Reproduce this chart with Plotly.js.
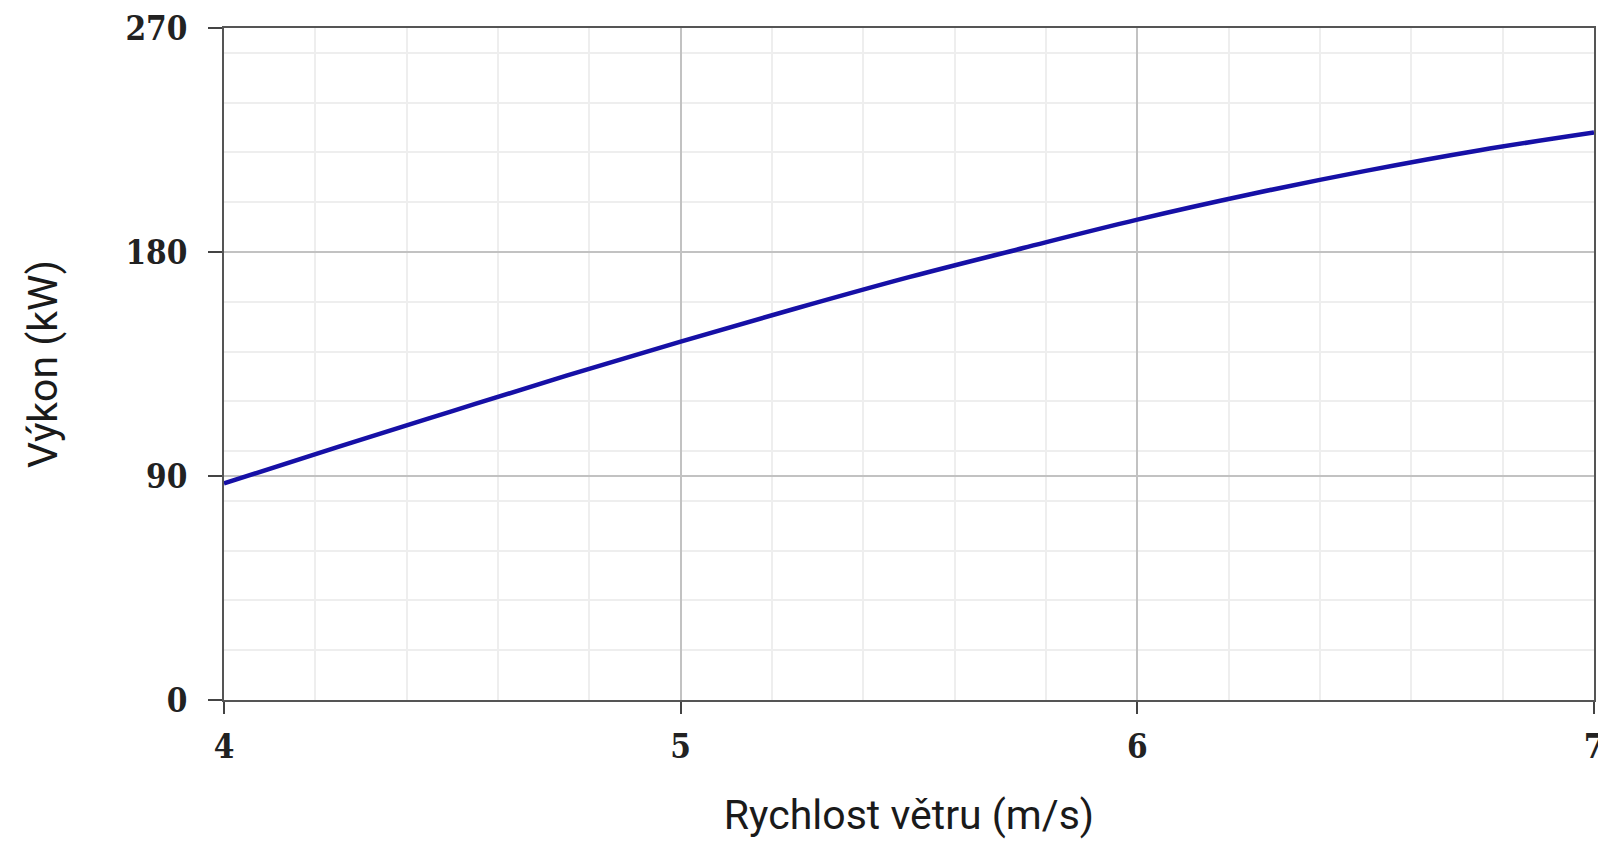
<!DOCTYPE html>
<html>
<head>
<meta charset="utf-8">
<script src="https://cdn.plot.ly/plotly-3.0.1.min.js"></script>
<style>
  html, body { margin: 0; padding: 0; background: #ffffff; }
  #chart { width: 1598px; height: 852px; }
</style>
</head>
<body>
<div id="chart"></div>
<script>
// Wind speed (m/s)
const windSpeed = [4.0, 4.25, 4.5, 4.75, 5.0, 5.25, 5.5, 5.75, 6.0, 6.25, 6.5, 6.75, 7.0];
// Power output (kW)
const power = [87, 101.7, 116.1, 130.3, 144, 157.2, 169.9, 181.6, 193, 203.3, 212.6, 220.9, 228];

const xTitle = 'Rychlost větru (m/s)';
const yTitle = 'Výkon (kW)';
const xTicks = [4, 5, 6, 7];
const yTicks = [0, 90, 180, 270];

const tickFont = { family: 'DejaVu Serif Condensed, DejaVu Serif, serif', size: 33, color: '#222222', weight: 'bold' };
const titleFont = { family: 'Roboto, sans-serif', size: 41, color: '#1a1a1a' };

const trace = {
  x: windSpeed,
  y: power,
  type: 'scatter',
  mode: 'lines',
  line: { color: '#1610a6', width: 4.5, shape: 'spline' },
  hoverinfo: 'x+y',
  showlegend: false
};

const layout = {
  width: 1598,
  height: 852,
  margin: { l: 224, r: 4, t: 28, b: 152 },
  paper_bgcolor: '#ffffff',
  plot_bgcolor: '#ffffff',
  xaxis: {
    range: [4, 7],
    tickmode: 'array',
    tickvals: xTicks,
    ticktext: xTicks.map(String),
    ticks: 'outside',
    ticklen: 12,
    tickwidth: 2,
    tickcolor: '#444444',
    tickfont: tickFont,
    ticklabelstandoff: 4,
    ticklabeloverflow: 'allow',
    showline: true,
    mirror: true,
    linecolor: '#555555',
    linewidth: 2,
    showgrid: true,
    gridcolor: '#c2c2c2',
    gridwidth: 1.5,
    zeroline: false,
    minor: { dtick: 0.2, tick0: 4, showgrid: true, gridcolor: '#eeeeee', gridwidth: 2, ticks: '' },
    title: { text: xTitle, font: titleFont, standoff: 36 }
  },
  yaxis: {
    range: [0, 270],
    tickmode: 'array',
    tickvals: yTicks,
    ticktext: yTicks.map(String),
    ticks: 'outside',
    ticklen: 14,
    tickwidth: 2,
    tickcolor: '#444444',
    tickfont: tickFont,
    ticklabelstandoff: 14,
    ticklabeloverflow: 'allow',
    showline: true,
    mirror: true,
    linecolor: '#555555',
    linewidth: 2,
    showgrid: true,
    gridcolor: '#c2c2c2',
    gridwidth: 1.5,
    zeroline: false,
    minor: { dtick: 20, tick0: 0, showgrid: true, gridcolor: '#eeeeee', gridwidth: 2, ticks: '' },
    title: { text: yTitle, font: titleFont, standoff: 55 }
  }
};

Plotly.newPlot('chart', [trace], layout, { displayModeBar: false, responsive: false });
</script>
</body>
</html>
